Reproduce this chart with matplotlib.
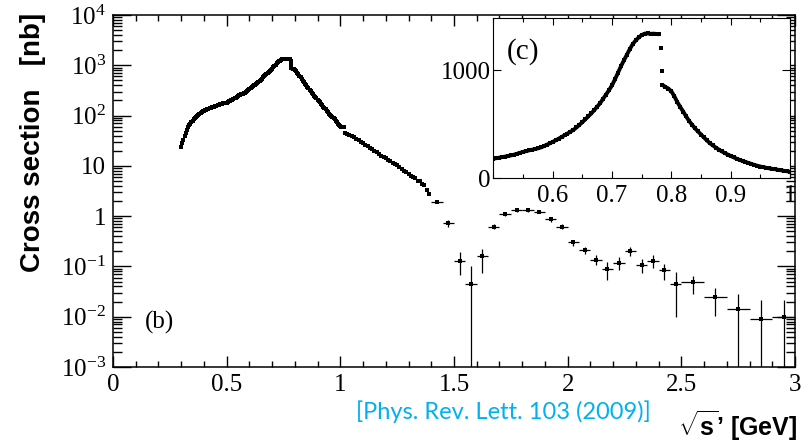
import numpy as np
import matplotlib
matplotlib.use('Agg')
import matplotlib.pyplot as plt
from matplotlib.ticker import MultipleLocator, LogLocator, NullFormatter

plt.rcParams['font.family'] = ['Liberation Serif', 'DejaVu Serif']
plt.rcParams['mathtext.fontset'] = 'custom'
plt.rcParams['mathtext.rm'] = 'Liberation Serif'
plt.rcParams['mathtext.it'] = 'Liberation Serif:italic'
plt.rcParams['mathtext.bf'] = 'Liberation Sans:bold'

# fine-binned region: 5 MeV steps from 0.300 to 1.000 GeV
sqrt_s_fine = np.round(np.linspace(0.300, 1.000, 141), 3)
sigma_fine = [
    24, 28, 33, 39, 46, 52, 58, 64, 69, 74,
    79, 84, 88, 93, 97, 102, 107, 112, 117, 121,
    125, 128, 131, 134, 137, 139, 142, 145, 148, 151,
    155, 158, 162, 165, 169, 171, 173, 175, 177, 179,
    181, 186, 191, 196, 201, 206, 212, 219, 227, 236,
    244, 251, 258, 264, 270, 277, 285, 297, 310, 323,
    337, 351, 366, 382, 398, 414, 431, 448, 470, 494,
    519, 545, 572, 600, 630, 662, 695, 735, 775, 815,
    860, 915, 975, 1035, 1090, 1142, 1195, 1242, 1275, 1303,
    1325, 1338, 1340, 1336, 1338, 1335, 1332,
    864, 845, 830, 805, 760, 705, 660, 617, 572, 530,
    495, 462, 433, 405, 378, 350, 325, 304, 284, 266,
    249, 234, 220, 207, 194, 182, 171, 160, 151, 142,
    133, 124, 116, 109, 103, 97, 92, 88, 84, 79,
    74, 69, 65, 61,
]

# rho-omega interference points
sqrt_s_omega = [0.782, 0.784]
sigma_omega = [1204, 992]

# phi region and the tail up to 1.39 GeV
sqrt_s_tail = [1.005, 1.010, 1.015, 1.020] + list(np.round(np.linspace(1.03, 1.39, 37), 2))
sigma_tail = [
    60, 59, 58, 45,
    43.5, 41.6, 39.5, 37.0, 34.5, 32.5, 30.0, 28.0, 26.4, 24.8,
    23.0, 21.5, 20.0, 18.6, 17.3, 16.0, 15.0, 14.0, 13.2, 12.3,
    11.6, 10.9, 10.3, 9.5, 8.8, 8.0, 7.4, 6.9, 6.4, 6.0,
    5.8, 5.0, 5.1, 4.4, 4.1, 3.3, 2.8,
]

# coarse bins above 1.4 GeV
bin_x = [1.425, 1.475, 1.525, 1.575, 1.625, 1.675, 1.725, 1.775, 1.825, 1.875,
         1.925, 1.975, 2.025, 2.075, 2.125, 2.175, 2.225, 2.275, 2.325, 2.375,
         2.425, 2.475, 2.55, 2.65, 2.75, 2.85, 2.95]
bin_w = [0.025] * 22 + [0.05] * 5
bin_y = [1.94, 0.72, 0.13, 0.044, 0.164, 0.62, 1.11, 1.31, 1.33, 1.23,
         0.87, 0.62, 0.30, 0.21, 0.135, 0.089, 0.119, 0.203, 0.107, 0.130,
         0.083, 0.044, 0.0486, 0.0244, 0.0141, 0.00917, 0.0100]
bin_hi = [0.15, 0.10, 0.067, 0.060, 0.059, 0.07, 0.10, 0.10, 0.10, 0.10,
          0.09, 0.07, 0.04, 0.035, 0.03, 0.036, 0.038, 0.044, 0.032, 0.037,
          0.027, 0.032, 0.015, 0.0127, 0.0141, 0.0124, 0.0119]
bin_lo = [0.15, 0.10, 0.064, 0.044, 0.090, 0.07, 0.10, 0.10, 0.10, 0.10,
          0.09, 0.07, 0.04, 0.035, 0.03, 0.035, 0.034, 0.042, 0.034, 0.039,
          0.029, 0.034, 0.020, 0.0142, 0.0141, 0.00917, 0.0100]

x_all = np.concatenate([sqrt_s_fine, sqrt_s_omega, sqrt_s_tail])
y_all = np.concatenate([sigma_fine, sigma_omega, sigma_tail])
order = np.argsort(x_all)
x_all = x_all[order]
y_all = y_all[order]

bin_y = np.array(bin_y)
low_end = np.maximum(bin_y - np.array(bin_lo), 1e-5)
yerr = [bin_y - low_end, np.array(bin_hi)]

fig = plt.figure(figsize=(8.11, 4.42), dpi=100)
ax = fig.add_axes([0.1393, 0.1697, 0.8410, 0.7964])
ax.set_yscale('log')
ax.set_xlim(0, 3)
ax.set_ylim(1e-3, 1e4)

ax.plot(x_all, y_all, 's', ms=2.6, mew=0, color='k')
ax.errorbar(bin_x, bin_y, xerr=bin_w, yerr=yerr, fmt='s', ms=2.4, mew=0,
            color='k', ecolor='k', elinewidth=0.9, capsize=1.8, capthick=0.9)

ax.set_xticks([0, 0.5, 1, 1.5, 2, 2.5, 3], labels=['0', '0.5', '1', '1.5', '2', '2.5', '3'])
ax.xaxis.set_minor_locator(MultipleLocator(0.1))
ax.set_yticks([1e-3, 1e-2, 1e-1, 1, 10, 1e2, 1e3, 1e4],
              labels=[r'$10^{-3}$', r'$10^{-2}$', r'$10^{-1}$', '1', '10',
                      r'$10^{2}$', r'$10^{3}$', r'$10^{4}$'])
ax.yaxis.set_minor_locator(LogLocator(base=10, subs=np.arange(2, 10)))
ax.yaxis.set_minor_formatter(NullFormatter())
ax.tick_params(which='both', direction='in', top=True, right=True, labelsize=18, width=1)
ax.tick_params(axis='x', which='major', length=8, pad=5)
ax.tick_params(axis='x', which='minor', length=4)
ax.tick_params(axis='y', which='major', length=13, pad=5)
ax.tick_params(axis='y', which='minor', length=6.5)
for sp in ax.spines.values():
    sp.set_linewidth(1.1)

# inset: linear zoom on the rho peak, dense points drawn as a thick band
axin = fig.add_axes([0.6083, 0.5966, 0.3658, 0.3620])
rise = x_all <= 0.7805
fall = x_all >= 0.7845
axin.plot(x_all[rise], y_all[rise], '-', lw=2.8, color='k', solid_capstyle='butt')
axin.plot(x_all[fall], y_all[fall], '-', lw=2.8, color='k', solid_capstyle='butt')
axin.plot(x_all, y_all, 's', ms=3.0, mew=0, color='k')
axin.set_xlim(0.5, 1.0)
axin.set_ylim(0, 1480)
axin.set_xticks([0.6, 0.7, 0.8, 0.9, 1.0], labels=['0.6', '0.7', '0.8', '0.9', '1'])
axin.xaxis.set_minor_locator(MultipleLocator(0.05))
axin.set_yticks([0, 1000], labels=['0', '1000'])
axin.tick_params(which='both', direction='in', top=True, right=True, labelsize=18, width=0.8)
axin.tick_params(axis='x', which='major', length=5, pad=5)
axin.tick_params(axis='x', which='minor', length=3)
axin.tick_params(axis='y', which='major', length=6, pad=2)
for sp in axin.spines.values():
    sp.set_linewidth(0.8)

fig.text(160 / 811, 1 - 322 / 442, '(b)', fontsize=18, ha='center', va='center')
fig.text(523 / 811, 1 - 52 / 442, '(c)', fontsize=21, ha='center', va='center')

fig.text(33 / 811, 1 - 142 / 442, 'Cross section   [nb]', rotation=90, fontsize=20,
         fontweight='bold', family=['Liberation Sans', 'DejaVu Sans'], ha='center', va='center')
fig.text(797 / 811, 1 - 426 / 442, r'$\sqrt{\mathbf{s}}$’ [GeV]', fontsize=18,
         fontweight='bold', family=['Liberation Sans', 'DejaVu Sans'], ha='right', va='center')
fig.text(503 / 811, 1 - 412 / 442, '[Phys. Rev. Lett. 103 (2009)]', fontsize=17,
         color='#00B0F0', family=['Lato', 'DejaVu Sans'], ha='center', va='center')

fig.savefig('out.png', dpi=100)
